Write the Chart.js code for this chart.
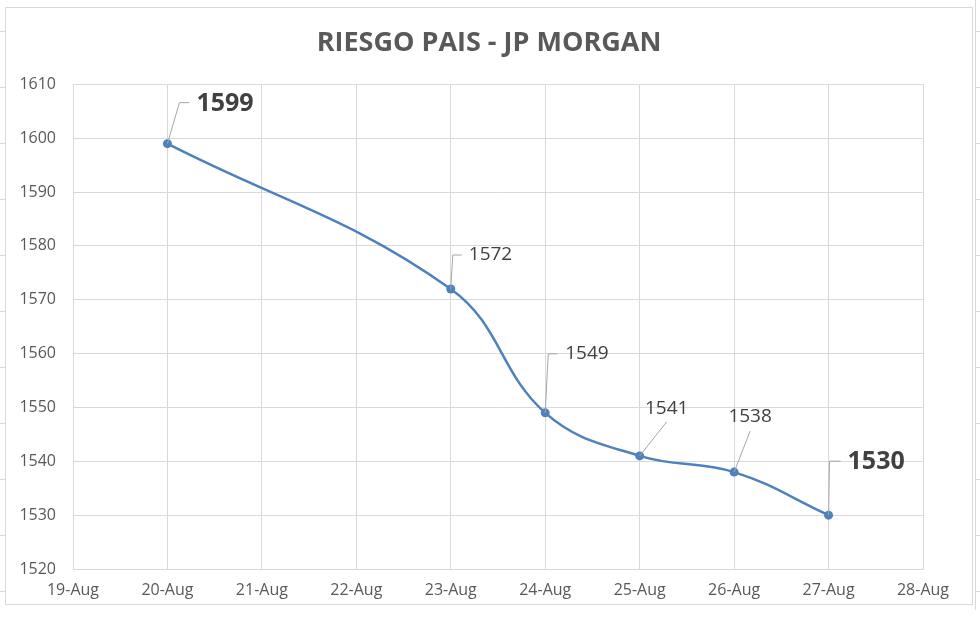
<!DOCTYPE html>
<html>
<head>
<meta charset="utf-8">
<script src="https://cdn.jsdelivr.net/npm/chart.js@4.4.0/dist/chart.umd.min.js"></script>
<style>
    body { margin: 0; background: #fff; width: 980px; height: 628px; overflow: hidden; position: relative; }
    .sheet-left, .sheet-right {
        position: absolute; top: 0; height: 610px; width: 5px;
        background: repeating-linear-gradient(to bottom, transparent 0, transparent 31px, #d9d9d9 31px, #d9d9d9 32px, transparent 32px, transparent 56px);
    }
    .sheet-left { left: 0; }
    .sheet-right { left: 975px; border-left: 1px solid #d9d9d9; }
    #wrap { position: absolute; left: 5px; top: 7px; width: 968px; height: 598px; border: 1px solid #d9d9d9; box-sizing: border-box; }
</style>
</head>
<body>
<div class="sheet-left"></div>
<div class="sheet-right"></div>
<div id="wrap"><canvas id="riesgoChart"></canvas></div>
<script>
// === DATA ===
const dayNums = [20, 23, 24, 25, 26, 27];
const riesgo = [1599, 1572, 1549, 1541, 1538, 1530];
const xTickLabels = ["19-Aug", "20-Aug", "21-Aug", "22-Aug", "23-Aug", "24-Aug", "25-Aug", "26-Aug", "27-Aug", "28-Aug"];
const firstDay = 19;

// posisi label (relatif ke titik) - hanya gaya
const labelStyle = [
    { dx: 29, dy: -40, bold: true, leader: [[12, -41], [22, -41]] },
    { dx: 18, dy: -34, bold: false, leader: [[2, -34], [11, -34]] },
    { dx: 20, dy: -59, bold: false, leader: [[3, -59], [12, -59]] },
    { dx: 27, dy: -47, bold: false, center: true, leader: [[27, -34]] },
    { dx: 16, dy: -55, bold: false, center: true, leader: [[16, -41]] },
    { dx: 19, dy: -53, bold: true, leader: [[1, -54], [12, -54]] },
];

const FONT = "'Open Sans', sans-serif";
const TICK_COLOR = "#595959";
const GRID_COLOR = "#d9d9d9";
const LINE_COLOR = "#4f81bd";

// plugin label data + garis penunjuk
const dataLabels = {
    id: "dataLabels",
    afterDatasetsDraw(chart) {
        const ctx = chart.ctx;
        const meta = chart.getDatasetMeta(0);
        meta.data.forEach((pt, i) => {
            const s = labelStyle[i];
            ctx.save();
            ctx.strokeStyle = "#a6a6a6";
            ctx.lineWidth = 1;
            ctx.beginPath();
            ctx.moveTo(pt.x, pt.y);
            s.leader.forEach(([lx, ly]) => ctx.lineTo(pt.x + lx, pt.y + ly));
            ctx.stroke();

            ctx.fillStyle = "#404040";
            ctx.font = s.bold ? `bold 25px ${FONT}` : `19px ${FONT}`;
            ctx.textBaseline = "middle";
            ctx.textAlign = s.center ? "center" : "left";
            ctx.fillText(String(riesgo[i]), pt.x + s.dx, pt.y + s.dy);
            ctx.restore();
        });
    },
};

const ctx = document.getElementById("riesgoChart").getContext("2d");
new Chart(ctx, {
    type: "line",
    data: {
        datasets: [{
            label: "Riesgo Pais",
            data: dayNums.map((d, i) => ({ x: d, y: riesgo[i] })),
            borderColor: LINE_COLOR,
            backgroundColor: LINE_COLOR,
            borderWidth: 2.5,
            pointRadius: 4.5,
            pointBorderWidth: 0,
            pointBackgroundColor: LINE_COLOR,
            tension: 0.4,
            fill: false,
        }],
    },
    options: {
        responsive: true,
        maintainAspectRatio: false,
        animation: false,
        layout: { padding: 0 },
        plugins: {
            legend: { display: false },
            tooltip: { enabled: false },
            title: {
                display: true,
                text: "RIESGO PAIS - JP MORGAN",
                color: TICK_COLOR,
                font: { family: FONT, size: 27, weight: "bold", lineHeight: 1.2 },
                padding: { top: 19, bottom: 25 },
            },
        },
        scales: {
            x: {
                type: "linear",
                min: 19,
                max: 28,
                ticks: {
                    stepSize: 1,
                    color: TICK_COLOR,
                    font: { family: FONT, size: 16 },
                    padding: 12,
                    maxRotation: 0,
                    callback: (v) => xTickLabels[v - firstDay],
                },
                grid: { color: GRID_COLOR, drawTicks: false },
                border: { color: GRID_COLOR },
                afterFit: (scale) => { scale.height = 35; },
            },
            y: {
                min: 1520,
                max: 1610,
                ticks: {
                    stepSize: 10,
                    color: TICK_COLOR,
                    font: { family: FONT, size: 16 },
                    padding: 17,
                    callback: (v) => String(v),
                },
                grid: { color: GRID_COLOR, drawTicks: false },
                border: { color: GRID_COLOR },
                afterFit: (scale) => { scale.width = 67; },
            },
            // ruang kosong di kanan (tanpa geser judul)
            spacer: {
                type: "linear",
                position: "right",
                ticks: { display: false },
                grid: { display: false, drawTicks: false },
                border: { display: false },
                afterFit: (scale) => { scale.width = 49; },
            },
        },
    },
    plugins: [dataLabels],
});
</script>
</body>
</html>
